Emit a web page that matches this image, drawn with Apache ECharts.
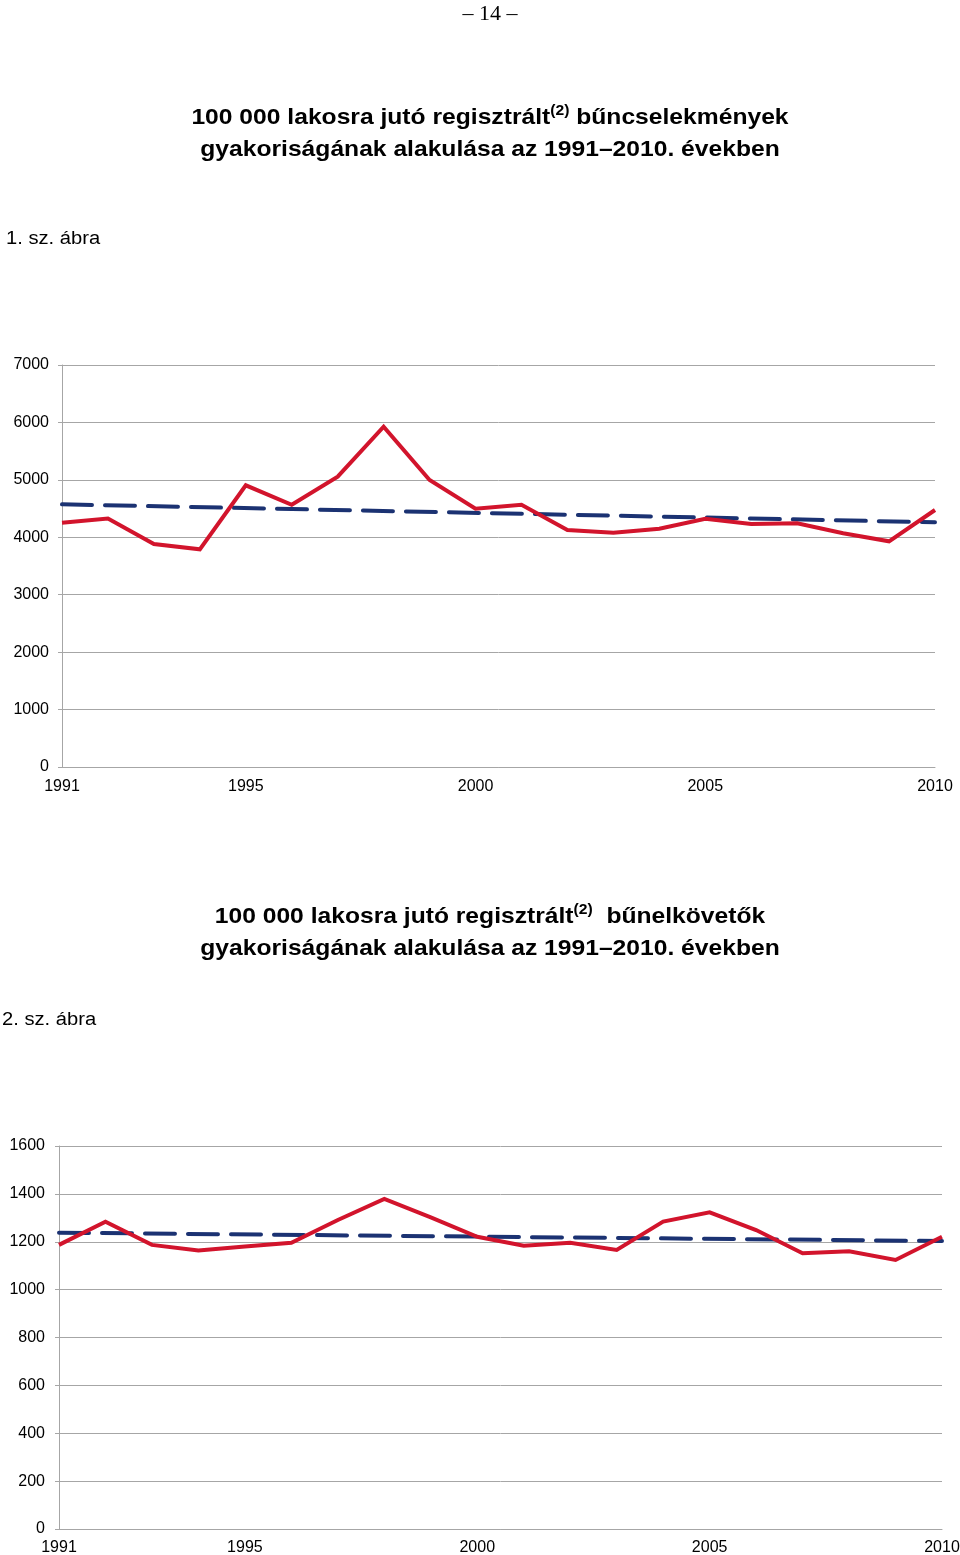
<!DOCTYPE html>
<html>
<head>
<meta charset="utf-8">
<script src="https://cdn.jsdelivr.net/npm/echarts@6/dist/echarts.min.js"></script>
<style>
  html, body { margin: 0; padding: 0; background: #fff; }
  #wrap { position: relative; width: 960px; height: 1555px; overflow: hidden; }
  #chart { position: absolute; left: 0; top: 0; width: 960px; height: 1555px; }
  .txt { position: absolute; color: #000; font-family: "Liberation Sans", Arial, sans-serif; white-space: nowrap; }
  .title { left: 0; width: 980px; text-align: center; font-weight: bold; font-size: 22px; line-height: 32px;
           transform: scaleX(1.12); transform-origin: 490px 0; }
  .title sup { font-size: 14px; line-height: 0; vertical-align: 0; position: relative; top: -9px; font-weight: bold; }
  .cap { font-size: 18px; transform: scaleX(1.12); transform-origin: 0 0; }
  .page { left: 0; width: 980px; text-align: center; font-family: "Liberation Serif", "Times New Roman", serif; font-size: 22px; top: 0px; }
</style>
</head>
<body>
<div id="wrap">
  <div id="chart"></div>
  <div class="txt page">– 14 –</div>
  <div class="txt title" style="top:101px">100 000 lakosra jutó regisztrált<sup>(2)</sup> bűncselekmények<br>gyakoriságának alakulása az 1991–2010. években</div>
  <div class="txt cap" style="left:6px; top:228px">1. sz. ábra</div>
  <div class="txt title" style="top:900px">100 000 lakosra jutó regisztrált<sup>(2)</sup>&nbsp; bűnelkövetők<br>gyakoriságának alakulása az 1991–2010. években</div>
  <div class="txt cap" style="left:2px; top:1009px">2. sz. ábra</div>
</div>
<script>
// ---- data ----
var years = ['1991','1992','1993','1994','1995','1996','1997','1998','1999','2000',
             '2001','2002','2003','2004','2005','2006','2007','2008','2009','2010'];
var xTickLabels = ['1991','1995','2000','2005','2010'];

// Chart 1: registered crimes per 100 000 inhabitants
var crimes = [4254, 4327, 3883, 3790, 4905, 4567, 5055, 5926, 4997, 4498,
              4567, 4127, 4080, 4150, 4324, 4231, 4243, 4069, 3930, 4475];
// linear trend (endpoints)
var crimesTrend = [4574, null, null, null, null, null, null, null, null, null,
                   null, null, null, null, null, null, null, null, null, 4261];

// Chart 2: registered offenders per 100 000 inhabitants
var offenders = [1187, 1284, 1187, 1163, 1180, 1196, 1291, 1379, 1302, 1221,
                 1183, 1196, 1166, 1284, 1323, 1249, 1152, 1160, 1124, 1221];
var offendersTrend = [1238, null, null, null, null, null, null, null, null, null,
                      null, null, null, null, null, null, null, null, null, 1203];

// ---- chart ----
var RED = '#d2142c';
var BLUE = '#1b3272';
var GRID_C = '#a6a6a6';
var FONT = '"Liberation Sans", Arial, sans-serif';

function xAxisCfg(gridIndex, margin) {
  return {
    type: 'category', gridIndex: gridIndex, data: years, boundaryGap: false,
    axisLine: { show: true, lineStyle: { color: GRID_C, width: 1 } },
    axisTick: { show: false },
    splitLine: { show: false },
    axisLabel: {
      color: '#000', fontFamily: FONT, fontSize: 16, margin: margin,
      interval: function (i, v) { return xTickLabels.indexOf(v) >= 0; }
    }
  };
}
function yAxisCfg(gridIndex, max, interval, margin) {
  return {
    type: 'value', gridIndex: gridIndex, min: 0, max: max, interval: interval,
    axisLine: { show: true, lineStyle: { color: GRID_C, width: 1 } },
    axisTick: { show: true, length: 4, lineStyle: { color: GRID_C } },
    splitLine: { show: true, lineStyle: { color: GRID_C, width: 1 } },
    axisLabel: { color: '#000', fontFamily: FONT, fontSize: 16, margin: margin,
      formatter: function (v) { return String(v); } }
  };
}
function mainSeries(idx, data) {
  return { type: 'line', xAxisIndex: idx, yAxisIndex: idx, data: data, symbol: 'none',
    lineStyle: { color: RED, width: 4, join: 'miter' }, z: 3 };
}
function trendSeries(idx, data) {
  return { type: 'line', xAxisIndex: idx, yAxisIndex: idx, data: data, symbol: 'none',
    connectNulls: true,
    lineStyle: { color: BLUE, width: 4, type: [30, 13], cap: 'round' }, z: 2 };
}

var chart = echarts.init(document.getElementById('chart'), null, { renderer: 'canvas' });
chart.setOption({
  animation: false,
  backgroundColor: '#fff',
  grid: [
    { left: 62, right: 25, top: 365, height: 402, outerBoundsMode: 'none', containLabel: false },
    { left: 59, right: 18, top: 1146, height: 383, outerBoundsMode: 'none', containLabel: false }
  ],
  xAxis: [xAxisCfg(0, 12), xAxisCfg(1, 11)],
  yAxis: [yAxisCfg(0, 7000, 1000, 13), yAxisCfg(1, 1600, 200, 14)],
  series: [
    trendSeries(0, crimesTrend), mainSeries(0, crimes),
    trendSeries(1, offendersTrend), mainSeries(1, offenders)
  ]
});
</script>
</body>
</html>
